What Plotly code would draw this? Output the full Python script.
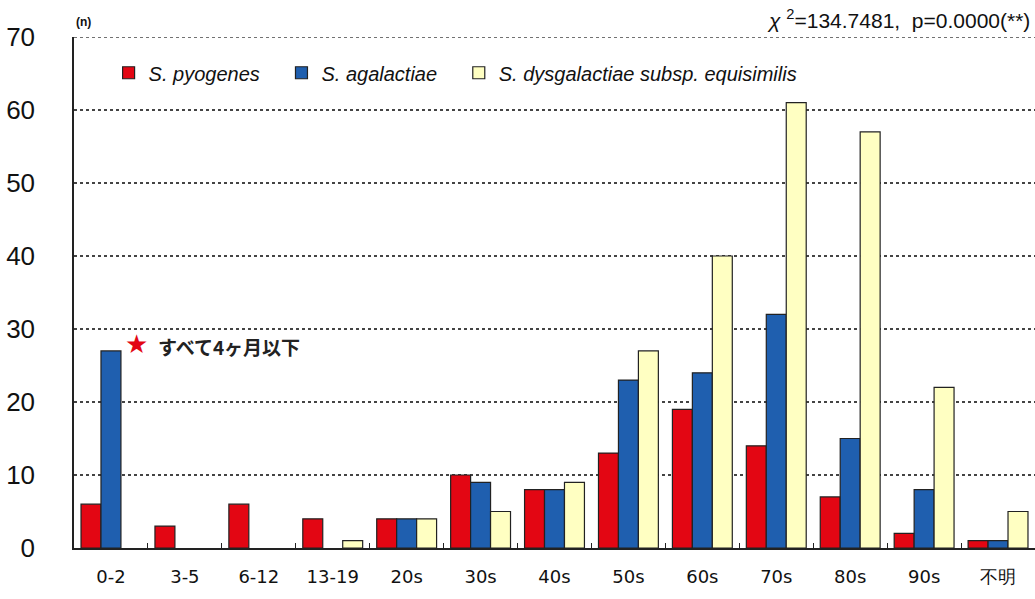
import plotly.graph_objects as go

categories = ["0-2", "3-5", "6-12", "13-19", "20s", "30s", "40s", "50s", "60s", "70s", "80s", "90s", "不明"]
pyogenes = [6, 3, 6, 4, 4, 10, 8, 13, 19, 14, 7, 2, 1]
agalactiae = [27, 0, 0, 0, 4, 9, 8, 23, 24, 32, 15, 8, 1]
equisimilis = [0, 0, 0, 1, 4, 5, 9, 27, 40, 61, 57, 22, 5]

pad = "\u00a0" * 3
series_names = [
    "<i>S. pyogenes</i>" + pad,
    "<i>S. agalactiae</i>" + pad,
    "<i>S. dysgalactiae subsp. equisimilis</i>",
]
series_colors = ["#E30613", "#1F5FAF", "#FFFFC2"]

fig = go.Figure()
for name, vals, col in zip(series_names, [pyogenes, agalactiae, equisimilis], series_colors):
    # zero counts are left blank so nothing sits on the baseline
    shown = [v if v > 0 else None for v in vals]
    fig.add_trace(go.Bar(
        x=categories, y=shown, name=name,
        marker=dict(color=col, line=dict(color="#222222", width=1.2)),
    ))

fig.update_layout(
    width=1035, height=599,
    margin=dict(l=74, r=0, t=37, b=51),
    paper_bgcolor="white", plot_bgcolor="white",
    barmode="group", bargap=0.19, bargroupgap=0,
    font=dict(family="Liberation Sans, Arial, sans-serif", color="#111111"),
    showlegend=True,
    legend=dict(
        orientation="h", x=0.036, y=0.93, xanchor="left", yanchor="middle",
        font=dict(size=20, color="#111111"),
        bgcolor="rgba(0,0,0,0)", itemwidth=30,
        tracegroupgap=0,
    ),
    xaxis=dict(
        showline=True, linecolor="#222222", linewidth=1.5,
        ticks="inside", ticklen=5, tickcolor="#222222", tickson="boundaries",
        tickfont=dict(size=18, family="DejaVu Sans, sans-serif"),
        ticklabelstandoff=12,
        range=[-0.5, 12.5], fixedrange=True,
    ),
    yaxis=dict(
        range=[0, 70], dtick=10,
        showline=True, linecolor="#222222", linewidth=1.5,
        showgrid=True, gridcolor="#444444", griddash="dot", gridwidth=1.5,
        tickfont=dict(size=26, family="Liberation Sans, Arial, sans-serif"),
        ticks="", ticklabelstandoff=32, zeroline=False,
    ),
)

# dotted line along the top of the plotting area
fig.add_shape(
    type="line", xref="paper", yref="y", x0=0, x1=1, y0=70, y1=70,
    line=dict(color="#444444", width=1.5, dash="dot"),
)

fig.add_annotation(
    xref="paper", yref="paper", x=0.0, y=1.0, xanchor="left", yanchor="bottom",
    yshift=6, text="<b>(n)</b>", showarrow=False, font=dict(size=12),
)
fig.add_annotation(
    xref="paper", yref="paper", x=0.997, y=1.0, xanchor="right", yanchor="bottom",
    yshift=3, text="<i>χ</i> <sup>2</sup>=134.7481,  p=0.0000(**)", showarrow=False,
    font=dict(size=21),
)
fig.add_annotation(
    x="0-2", y=27.9, xref="x", yref="y", xshift=26, xanchor="center", yanchor="middle",
    text="★", showarrow=False, font=dict(size=26, color="#E30613"),
)
fig.add_annotation(
    x="0-2", y=27.6, xref="x", yref="y", xshift=45, xanchor="left", yanchor="middle",
    text="<b>すべて4ヶ月以下</b>", showarrow=False,
    font=dict(size=19, family="Noto Sans CJK JP", color="#222222"),
)

fig.write_html("out.html")
